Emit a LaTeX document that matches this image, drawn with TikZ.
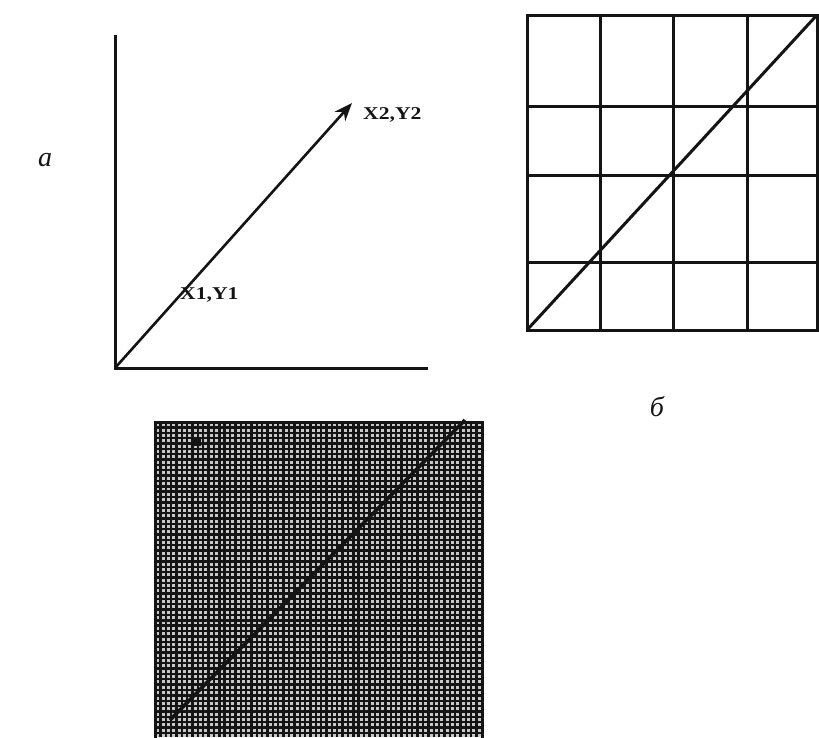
\documentclass[tikz,border=0pt]{standalone}
\usepackage{fontspec}
\setmainfont{Liberation Serif}
\usepackage{tikz}
\usetikzlibrary{arrows.meta,positioning}
\definecolor{RasterInk}{HTML}{141414}
\definecolor{RasterPaper}{HTML}{FFFFFF}
\definecolor{RasterCell}{HTML}{C8C8C8}
\tikzset{
  axisline/.style={RasterInk,line width=3pt},
  gridline/.style={RasterInk,line width=3pt},
  fineline/.style={RasterInk,line width=2.4pt},
  coordlabel/.style={text=RasterInk,font=\fontsize{18}{18}\selectfont\bfseries,xscale=1.2,inner sep=0pt},
  partlabel/.style={text=RasterInk,font=\fontsize{28}{28}\selectfont\itshape,inner sep=0pt}
}

\begin{document}
\begin{tikzpicture}[x=1pt,y=-1pt]
      \useasboundingbox[fill=RasterPaper] (0,0) rectangle (819,737);
      % a: vector on axes
      \coordinate (orig) at (115,368);
      \coordinate (ytop) at (115,35);
      \coordinate (xend) at (428,368);
      \coordinate (ptwo) at (352,103);
      \draw[axisline] (ytop) -- (orig) -- (xend);
      \draw[axisline,line width=2.6pt,-{Stealth[length=18pt,width=14pt]}] (orig) -- (ptwo);
      \node[coordlabel,anchor=west] (lbltwo) at (363,115) {X2,Y2};
      \node[coordlabel,anchor=west] (lblone) at (180,295) {X1,Y1};
      \node[partlabel] (parta) at (45,160) {а};
      % b: coarse raster
      \draw[gridline] (527,15) rectangle (817,330);
      \foreach \x in {600,673,747} {
        \draw[gridline] (\x,15) -- (\x,330);
      }
      \foreach \y in {106,175,262} {
        \draw[gridline] (527,\y) -- (817,\y);
      }
      \coordinate (blo) at (527,330);
      \coordinate (bhi) at (817,15);
      \draw[gridline] (blo) -- (bhi);
      \node[partlabel] (partb) at (657,407) {б};
      % c: fine raster
      \fill[RasterCell] (155,422) rectangle (482,737);
      \foreach \i in {0,...,60} {
        \draw[fineline] (155+\i*5.36,422) -- (155+\i*5.36,737);
      }
      \foreach \j in {0,...,58} {
        \draw[fineline] (155,422+\j*5.36) -- (482,422+\j*5.36);
      }
      \draw[RasterInk,line width=3pt] (155,422) rectangle (482,740);
      \fill[RasterInk] (194,439) rectangle (201,446);
      \coordinate (clo) at (170,720);
      \coordinate (chi) at (465,420);
      \draw[RasterInk,line width=3.6pt] (clo) -- (chi);
    \end{tikzpicture}
\end{document}
